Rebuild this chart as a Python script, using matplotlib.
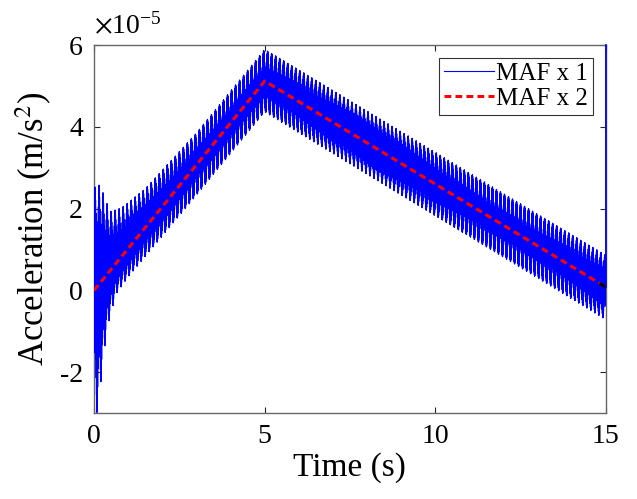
import numpy as np
import matplotlib.pyplot as plt

plt.rcParams['font.family'] = ['Liberation Serif', 'DejaVu Serif']
plt.rcParams['mathtext.fontset'] = 'stix'
plt.rcParams['axes.unicode_minus'] = False

# trend of the filtered acceleration (units of 1e-5 m/s^2)
trend_t = [0, 5, 15]
trend_a = [0.0, 5.12, 0.08]

# oscillation envelopes (units of 1e-5)
up_t = [0, 0.05, 0.18, 0.47, 0.8, 1.5, 3.0, 15]
up_a = [2.5, 2.5, 2.4, 1.45, 1.2, 0.95, 0.78, 0.78]
lo_t = [0, 0.1, 0.18, 0.26, 0.35, 0.47, 0.67, 1.0, 3.0, 15]
lo_a = [3.0, 3.1, 2.6, 2.1, 1.5, 1.1, 0.75, 0.7, 0.75, 0.8]
f_teeth = 8.5   # Hz, visible teeth on the band edges
f_fast = 137.0  # Hz, fills the band
end_spike = 6.0

t = np.linspace(0, 15, 60001)
trend = np.interp(t, trend_t, trend_a)
osc = 0.62 * np.sin(2 * np.pi * f_fast * t) + 0.38 * np.sin(2 * np.pi * f_teeth * t)
env = np.where(osc > 0, np.interp(t, up_t, up_a), np.interp(t, lo_t, lo_a))
maf1 = trend + env * osc
maf1[0] = 0.0
t1 = np.append(t, 15.0)
maf1 = np.append(maf1, end_spike)

fig = plt.figure(figsize=(6.37, 4.99), dpi=100)
ax = fig.add_axes([0.1476, 0.1723, 0.8035, 0.7375])

ax.plot(t1, maf1, color='blue', lw=0.8, label='MAF x 1', zorder=3)
ax.plot([15, 15], [maf1[-2], end_spike], color='blue', lw=1.2, zorder=5, clip_on=False)
ax.plot(t, trend, color='red', ls=(0, (2.2, 1.4)), lw=2.2, label='MAF x 2', zorder=4)
tail = t >= 14.85
ax.plot(t[tail], trend[tail], color='black', lw=2.2, zorder=4)

ax.set_xlim(0, 15)
ax.set_ylim(-3, 6)
ax.set_xticks([0, 5, 10, 15])
ax.set_yticks([-2, 0, 2, 4, 6])
ax.tick_params(direction='in', top=True, right=True, labelsize=20, length=4,
               color='0.15', pad=8)
for s in ax.spines.values():
    s.set_color('0.4')
    s.set_linewidth(1.0)

ax.set_xlabel('Time (s)', fontsize=24, labelpad=2)
ax.set_ylabel('Acceleration (m/s$^2$)', fontsize=25, labelpad=4)
ax.text(0.0, 1.015, r'$\times$10$^{\mathregular{-5}}$', transform=ax.transAxes,
        fontsize=20, ha='left', va='bottom')

leg = ax.legend(loc='upper right', fontsize=18, frameon=True, fancybox=False,
                handlelength=2.0, handletextpad=0.1, borderpad=0.2,
                labelspacing=0.1, borderaxespad=0.5)
leg.get_frame().set_edgecolor('black')
leg.get_frame().set_linewidth(0.8)

fig.savefig('out.png', dpi=100)
